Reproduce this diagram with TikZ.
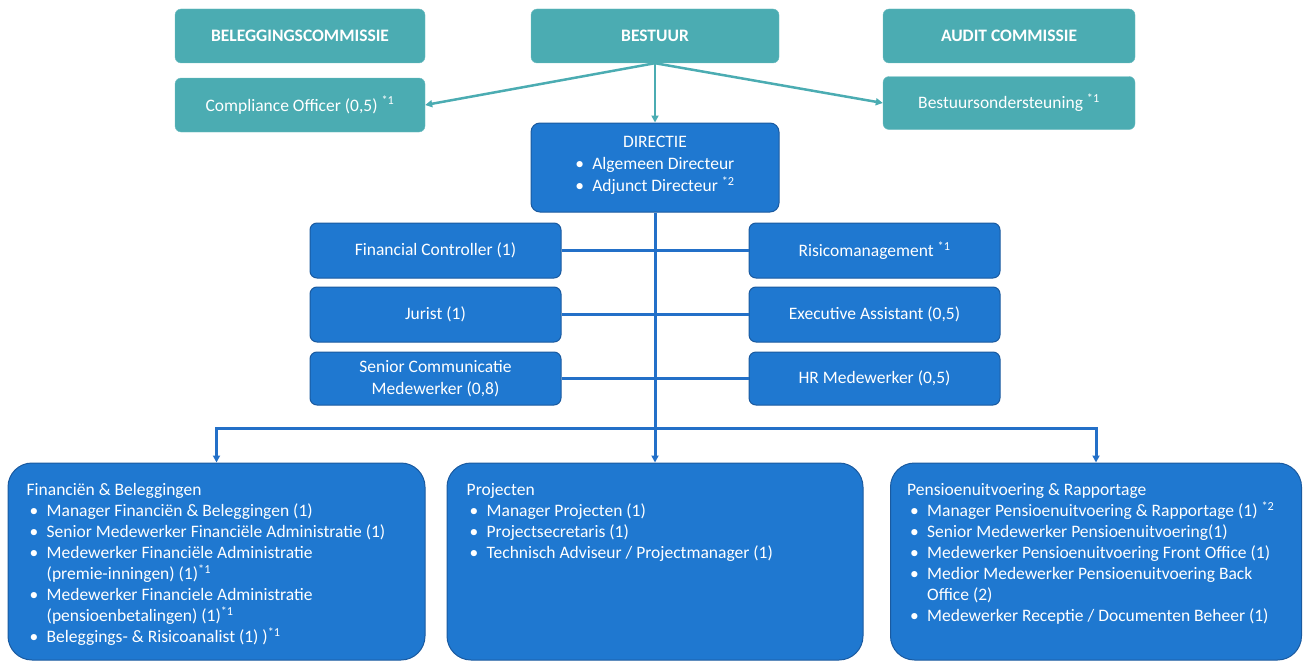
\documentclass[tikz,border=0pt]{standalone}
\usepackage{fontspec}
\setmainfont{Carlito}
\usetikzlibrary{arrows.meta}

\definecolor{tealbox}{RGB}{75,172,178}
\definecolor{bluebox}{RGB}{31,120,208}
\definecolor{blueedge}{RGB}{26,90,160}
\definecolor{bluelijn}{RGB}{35,112,200}

\newcommand{\bul}{\hspace*{3pt}\makebox[17pt][l]{\textbullet}}
\newcommand{\cnt}{\hspace*{20pt}}
\newcommand{\noot}[1]{\textsuperscript{*#1}}

\tikzset{
	commbox/.style={rectangle, rounded corners=6pt, fill=tealbox, draw=tealbox!80!white, text=white, minimum width=250pt, minimum height=54pt, inner sep=0pt, font=\fontsize{17.5}{21}\selectfont},
	titelbox/.style={commbox, font=\fontsize{17.5}{21}\selectfont\bfseries},
	stafbox/.style={rectangle, rounded corners=7pt, fill=bluebox, draw=blueedge, line width=1pt, text=white, minimum width=251pt, minimum height=55pt, inner sep=0pt, align=center, font=\fontsize{17.5}{22}\selectfont},
	afdbox/.style={rectangle, rounded corners=24pt, fill=bluebox, draw=blueedge, line width=1pt, minimum height=197pt, inner sep=0pt},
	afdtekst/.style={anchor=north west, inner sep=0pt, text=white, align=left, font=\fontsize{17.5}{21}\selectfont},
	tealpijl/.style={draw=tealbox, line width=2.5pt, -{Triangle[length=7pt,width=7pt]}},
	bluelijn/.style={draw=bluelijn, line width=3pt},
	bluepijl/.style={bluelijn, -{Triangle[length=7pt,width=7pt]}}
}

\begin{document}
\begin{tikzpicture}[x=1pt, y=-1pt]
	\useasboundingbox (0,0) rectangle (1303,661);

	\node[titelbox] (beleg) at (300,36) {BELEGGINGSCOMMISSIE};
	\node[titelbox, minimum width=248pt] (bestuur) at (655,36) {BESTUUR};
	\node[titelbox, minimum width=252pt] (audit) at (1009,36) {AUDIT COMMISSIE};
	\node[commbox] (compliance) at (300,105) {Compliance Officer (0,5) \noot{1}};
	\node[commbox, minimum width=252pt, minimum height=53pt] (onderst) at (1009,103) {Bestuursondersteuning \noot{1}};

	\node[stafbox, minimum width=248pt, minimum height=89pt, rounded corners=9pt] (directie) at (655,167.5) {DIRECTIE\\
		\begin{tabular}[t]{@{}l@{}}\makebox[17pt][l]{\textbullet}Algemeen Directeur\\ \makebox[17pt][l]{\textbullet}Adjunct Directeur \noot{2}\end{tabular}};

	\node[stafbox] (fc) at (435.5,250.5) {Financial Controller (1)};
	\node[stafbox] (jurist) at (435.5,314.5) {Jurist (1)};
	\node[stafbox, minimum height=53pt] (scm) at (435.5,378.5) {Senior Communicatie\\ Medewerker (0,8)};
	\node[stafbox] (risico) at (874.5,250.5) {Risicomanagement \noot{1}};
	\node[stafbox] (ea) at (874.5,314.5) {Executive Assistant (0,5)};
	\node[stafbox, minimum height=53pt] (hr) at (874.5,378.5) {HR Medewerker (0,5)};

	\node[afdbox, minimum width=417pt] (fin) at (216.5,561.5) {};
	\node[afdbox, minimum width=416pt] (proj) at (655,561.5) {};
	\node[afdbox, minimum width=411pt] (pens) at (1096,561.5) {};

	\node[afdtekst] (fintekst) at ([xshift=19pt, yshift=-21pt]fin.north west) {Financiën \& Beleggingen\\
		\bul Manager Financiën \& Beleggingen (1)\\
		\bul Senior Medewerker Financiële Administratie (1)\\
		\bul Medewerker Financiële Administratie\\
		\cnt (premie-inningen) (1)\noot{1}\\
		\bul Medewerker Financiele Administratie\\
		\cnt (pensioenbetalingen) (1)\noot{1}\\
		\bul Beleggings- \& Risicoanalist (1) )\noot{1}};
	\node[afdtekst] (projtekst) at ([xshift=20pt, yshift=-21pt]proj.north west) {Projecten\\
		\bul Manager Projecten (1)\\
		\bul Projectsecretaris (1)\\
		\bul Technisch Adviseur / Projectmanager (1)};
	\node[afdtekst] (penstekst) at ([xshift=17pt, yshift=-21pt]pens.north west) {Pensioenuitvoering \& Rapportage\\
		\bul Manager Pensioenuitvoering \& Rapportage (1) \noot{2}\\
		\bul Senior Medewerker Pensioenuitvoering(1)\\
		\bul Medewerker Pensioenuitvoering Front Office (1)\\
		\bul Medior Medewerker Pensioenuitvoering Back\\
		\cnt Office (2)\\
		\bul Medewerker Receptie / Documenten Beheer (1)};

	\draw[tealpijl] (bestuur.south) -- (compliance.east);
	\draw[tealpijl] (bestuur.south) -- (onderst.west);
	\draw[tealpijl] (bestuur.south) -- (directie.north);

	\draw[bluelijn] (fc) -- (risico);
	\draw[bluelijn] (jurist) -- (ea);
	\draw[bluelijn] (scm) -- (hr);
	\draw[bluepijl] (directie.south) -- (proj.north);

	\coordinate (busL) at (216.5,428);
	\coordinate (busR) at (1096,428);
	\draw[bluelijn, line cap=rect] (busL) -- (busR);
	\draw[bluepijl] (busL) -- (fin.north);
	\draw[bluepijl] (busR) -- (pens.north);
\end{tikzpicture}
\end{document}
